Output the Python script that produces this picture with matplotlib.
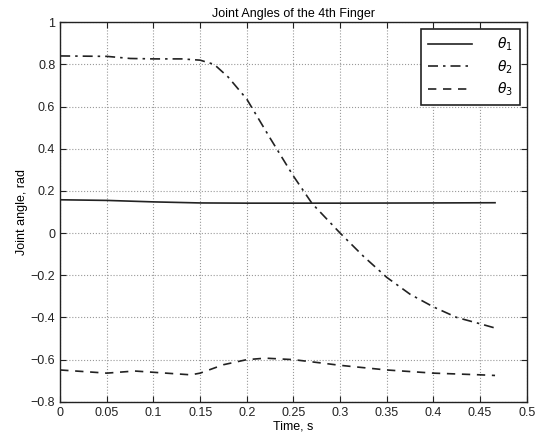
import matplotlib
matplotlib.use('Agg')
import matplotlib.pyplot as plt
from matplotlib.ticker import FuncFormatter

plt.rcParams.update({'font.size': 9})
plt.rcParams.update({'font.family': ['Liberation Sans', 'DejaVu Sans']})

# values (time in s, angle in rad)
t1 = [0, 0.05, 0.1, 0.15, 0.2, 0.3, 0.4, 0.466]
theta1 = [0.158, 0.155, 0.148, 0.143, 0.142, 0.142, 0.143, 0.144]

t2 = [0, 0.05, 0.075, 0.1, 0.13, 0.15, 0.165, 0.18, 0.2, 0.225, 0.25, 0.27,
      0.3, 0.325, 0.35, 0.375, 0.4, 0.425, 0.45, 0.466]
theta2 = [0.84, 0.838, 0.828, 0.826, 0.826, 0.82, 0.80, 0.74, 0.635, 0.45,
          0.27, 0.14, 0.0, -0.11, -0.21, -0.29, -0.35, -0.40, -0.43, -0.45]

t3 = [0, 0.05, 0.08, 0.1, 0.14, 0.15, 0.175, 0.2, 0.22, 0.25, 0.28, 0.3,
      0.35, 0.4, 0.45, 0.466]
theta3 = [-0.649, -0.664, -0.654, -0.66, -0.672, -0.664, -0.624, -0.60,
          -0.593, -0.60, -0.616, -0.627, -0.649, -0.664, -0.672, -0.675]

xticks = [0, 0.05, 0.1, 0.15, 0.2, 0.25, 0.3, 0.35, 0.4, 0.45, 0.5]
yticks = [-0.8, -0.6, -0.4, -0.2, 0, 0.2, 0.4, 0.6, 0.8, 1]

fig = plt.figure(figsize=(5.47, 4.44), dpi=100)
ax = fig.add_axes([0.110, 0.095, 0.853, 0.855])

ax.plot(t1, theta1, color='#222222', linewidth=1.2, linestyle='-', label=r'$\theta_1$')
ax.plot(t2, theta2, color='#222222', linewidth=1.2, linestyle=(0, (6, 3, 1.5, 3)), label=r'$\theta_2$')
ax.plot(t3, theta3, color='#222222', linewidth=1.2, linestyle=(0, (5, 4)), label=r'$\theta_3$')

ax.set_xlim(0, 0.5)
ax.set_ylim(-0.8, 1)
ax.set_xticks(xticks)
ax.set_yticks(yticks)
fmt = FuncFormatter(lambda v, p: ('%g' % round(v, 3)).replace('-', '\u2212'))
ax.xaxis.set_major_formatter(fmt)
ax.yaxis.set_major_formatter(fmt)
ax.tick_params(direction='in', top=True, right=True, length=4, width=0.8, colors='#222222')
ax.grid(True, linestyle=':', color='#999999', linewidth=0.8)
for s in ax.spines.values():
    s.set_linewidth(1.0)
    s.set_color('#222222')

ax.set_title('Joint Angles of the 4th Finger', fontsize=9, pad=4)
ax.set_xlabel('Time, s', labelpad=1)
ax.set_ylabel('Joint angle, rad', labelpad=2)

leg = ax.legend(loc='upper right', fancybox=False, framealpha=1, edgecolor='#222222',
                markerfirst=True, handlelength=3.2, borderaxespad=0.5, fontsize=10,
                labelspacing=0.35, handletextpad=1.8, borderpad=0.5)
leg.get_frame().set_linewidth(1.2)

fig.savefig('out.png', dpi=100)
